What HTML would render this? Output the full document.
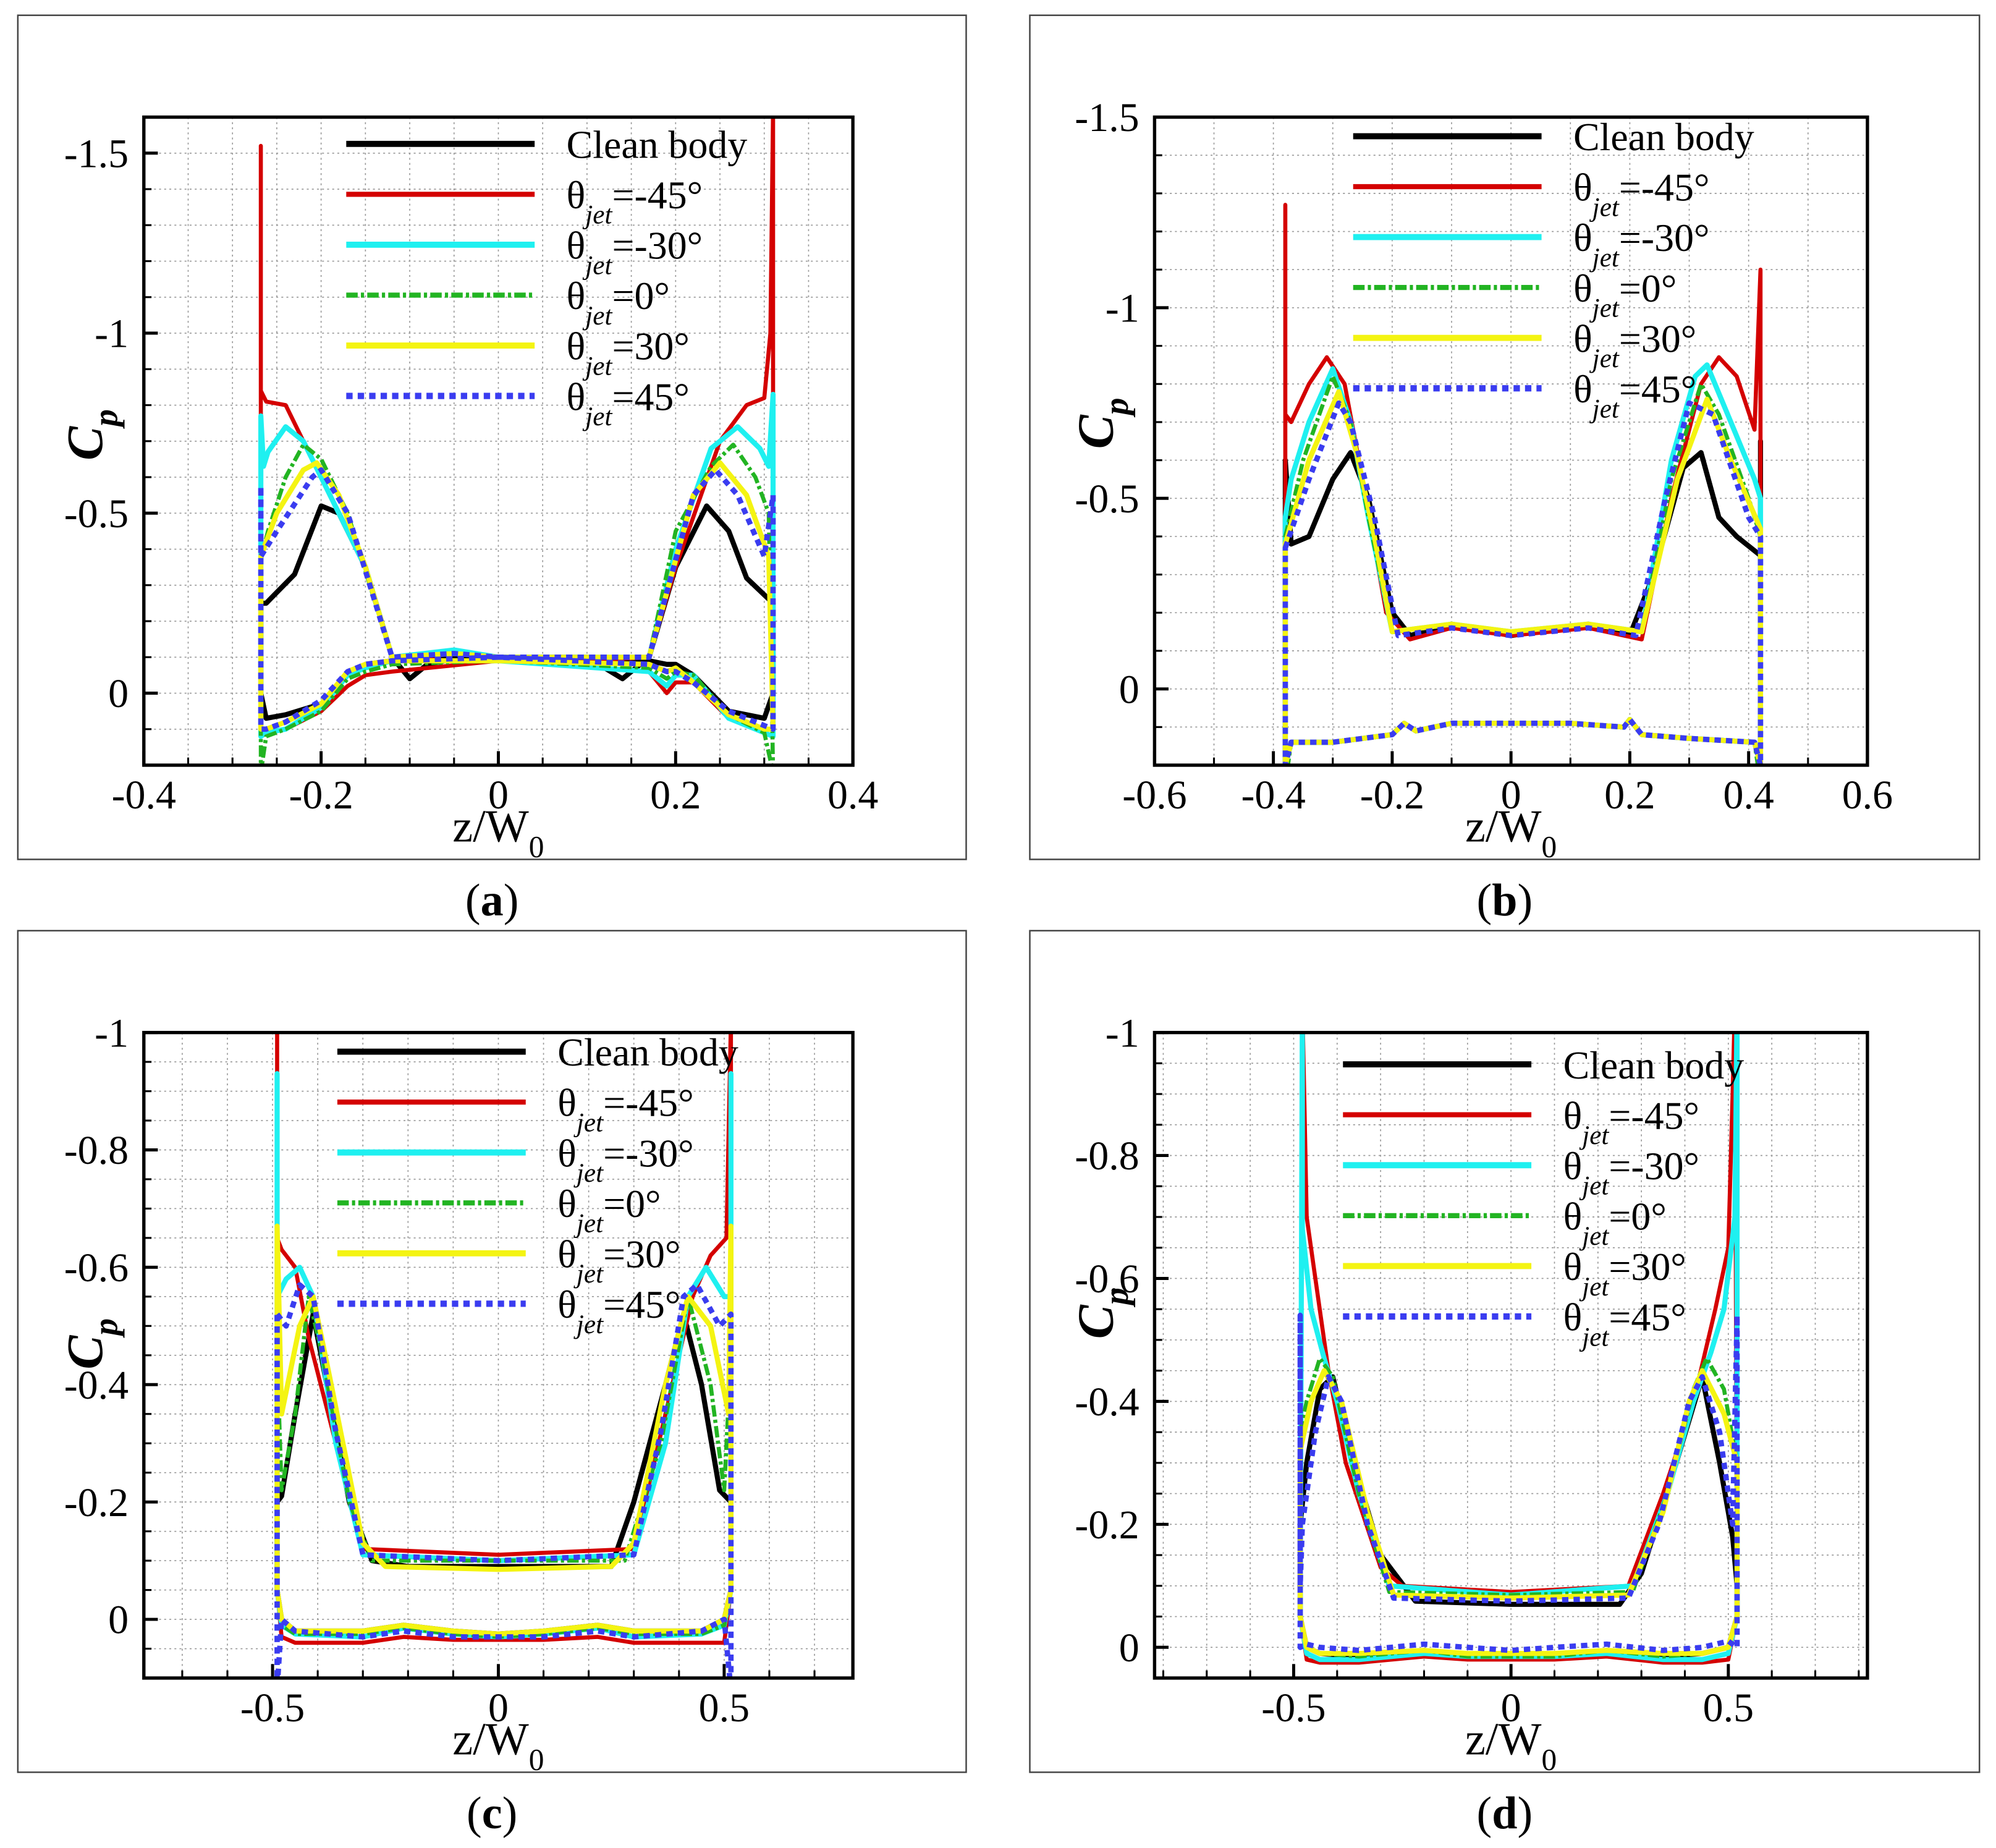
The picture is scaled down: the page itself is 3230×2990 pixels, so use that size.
<!DOCTYPE html>
<html><head><meta charset="utf-8">
<style>
html,body{margin:0;padding:0;background:#fff;}
svg{display:block;}
text{font-family:"Liberation Serif",serif;fill:#000;}
</style></head>
<body>
<svg id="fig" width="3230" height="2990" viewBox="0 0 1568 1451.5" xmlns="http://www.w3.org/2000/svg"></svg>
<script>
// ---------- Panel (a) data ----------
const A_black_upZ=[-0.268,-0.262,-0.25,-0.23,-0.2,-0.18,-0.15,-0.12,-0.1,-0.08,-0.04,0,0.1,0.14,0.17,0.2,0.235,0.26,0.28,0.31];
const A_black_upCp=[-0.25,-0.25,-0.28,-0.33,-0.52,-0.5,-0.35,-0.1,-0.04,-0.08,-0.1,-0.1,-0.1,-0.04,-0.1,-0.35,-0.52,-0.45,-0.32,-0.25];
const A_red_upZ=[-0.268,-0.268,-0.262,-0.24,-0.22,-0.19,-0.15,-0.12,-0.05,0,0.1,0.17,0.2,0.25,0.28,0.3,0.307,0.31];
const A_red_upCp=[-1.52,-0.84,-0.81,-0.8,-0.7,-0.55,-0.35,-0.1,-0.09,-0.09,-0.09,-0.1,-0.35,-0.7,-0.8,-0.82,-1.0,-1.62];
const A_cyan_upZ=[-0.268,-0.265,-0.26,-0.24,-0.22,-0.19,-0.15,-0.12,-0.05,0,0.1,0.17,0.2,0.24,0.27,0.295,0.305,0.31];
const A_cyan_upCp=[-0.77,-0.63,-0.67,-0.74,-0.7,-0.55,-0.35,-0.1,-0.12,-0.1,-0.1,-0.1,-0.4,-0.68,-0.74,-0.68,-0.63,-0.83];
const A_green_upZ=[-0.268,-0.26,-0.24,-0.22,-0.2,-0.17,-0.12,-0.05,0,0.1,0.17,0.2,0.24,0.265,0.29,0.305];
const A_green_upCp=[-0.37,-0.45,-0.6,-0.69,-0.65,-0.5,-0.1,-0.11,-0.1,-0.1,-0.1,-0.45,-0.63,-0.69,-0.6,-0.5];
const A_yellow_upZ=[-0.268,-0.25,-0.22,-0.205,-0.18,-0.15,-0.12,-0.05,0,0.1,0.17,0.22,0.25,0.28,0.305];
const A_yellow_upCp=[-0.38,-0.5,-0.62,-0.64,-0.55,-0.35,-0.1,-0.11,-0.1,-0.1,-0.1,-0.55,-0.64,-0.55,-0.38];
const A_blue_upZ=[-0.268,-0.268,-0.25,-0.21,-0.2,-0.17,-0.12,-0.05,0,0.1,0.17,0.22,0.245,0.27,0.3,0.31];
const A_blue_upCp=[-0.57,-0.38,-0.45,-0.6,-0.62,-0.5,-0.1,-0.11,-0.1,-0.1,-0.1,-0.55,-0.62,-0.55,-0.38,-0.55];
const A_loZ=[-0.268,-0.262,-0.24,-0.2,-0.17,-0.15,-0.12,0,0.17,0.19,0.2,0.22,0.26,0.3,0.31];
const A_black_loCp=[0.0,0.07,0.06,0.03,-0.05,-0.08,-0.09,-0.1,-0.09,-0.08,-0.08,-0.05,0.05,0.07,0.0];
const A_red_loCp=[0.12,0.11,0.1,0.05,-0.02,-0.05,-0.06,-0.09,-0.06,0.0,-0.03,-0.03,0.07,0.11,0.12];
const A_cyan_loCp=[0.12,0.11,0.1,0.04,-0.05,-0.07,-0.09,-0.09,-0.06,-0.02,-0.05,-0.05,0.07,0.11,0.12];
const A_green_loCp=[0.22,0.12,0.1,0.05,-0.04,-0.06,-0.08,-0.09,-0.07,-0.04,-0.06,-0.05,0.06,0.11,0.22];
const A_yellow_loCp=[0.1,0.1,0.08,0.03,-0.06,-0.08,-0.09,-0.09,-0.08,-0.06,-0.07,-0.03,0.06,0.1,0.1];
const A_blue_loCp=[0.1,0.1,0.08,0.02,-0.06,-0.08,-0.09,-0.1,-0.08,-0.06,-0.06,-0.03,0.05,0.09,0.1];
// ---------- Panel (b) data ----------
const B_black_upZ=[-0.38,-0.37,-0.34,-0.3,-0.27,-0.24,-0.2,-0.17,-0.1,0,0.13,0.2,0.24,0.29,0.32,0.35,0.38,0.42,0.42];
const B_black_upCp=[-0.6,-0.38,-0.4,-0.55,-0.62,-0.5,-0.2,-0.14,-0.17,-0.14,-0.17,-0.14,-0.3,-0.58,-0.62,-0.45,-0.4,-0.35,-0.65];
const B_red_upZ=[-0.38,-0.38,-0.37,-0.34,-0.31,-0.28,-0.25,-0.21,-0.17,-0.1,0,0.13,0.22,0.27,0.32,0.35,0.38,0.41,0.42];
const B_red_upCp=[-1.27,-0.72,-0.7,-0.8,-0.87,-0.8,-0.55,-0.2,-0.13,-0.16,-0.14,-0.16,-0.13,-0.5,-0.8,-0.87,-0.82,-0.68,-1.1];
const B_cyan_upZ=[-0.38,-0.37,-0.34,-0.3,-0.27,-0.24,-0.2,-0.1,0,0.13,0.22,0.27,0.31,0.33,0.37,0.41,0.42];
const B_cyan_upCp=[-0.45,-0.55,-0.7,-0.84,-0.7,-0.45,-0.15,-0.17,-0.15,-0.17,-0.15,-0.6,-0.82,-0.85,-0.7,-0.55,-0.5];
const B_green_upZ=[-0.38,-0.35,-0.3,-0.27,-0.24,-0.2,-0.1,0,0.13,0.22,0.27,0.32,0.35,0.4,0.42];
const B_green_upCp=[-0.4,-0.6,-0.82,-0.7,-0.45,-0.15,-0.17,-0.15,-0.17,-0.15,-0.55,-0.8,-0.72,-0.5,-0.4];
const B_yellow_upZ=[-0.38,-0.34,-0.29,-0.26,-0.23,-0.2,-0.1,0,0.13,0.22,0.28,0.33,0.37,0.42];
const B_yellow_upCp=[-0.38,-0.6,-0.78,-0.62,-0.4,-0.15,-0.17,-0.15,-0.17,-0.15,-0.55,-0.76,-0.6,-0.42];
const B_blue_upZ=[-0.38,-0.34,-0.29,-0.27,-0.23,-0.19,-0.1,0,0.13,0.21,0.26,0.3,0.34,0.4,0.42];
const B_blue_upCp=[-0.37,-0.55,-0.75,-0.7,-0.45,-0.14,-0.16,-0.14,-0.16,-0.14,-0.5,-0.75,-0.72,-0.45,-0.4];
const B_loZ=[-0.38,-0.37,-0.3,-0.2,-0.18,-0.16,-0.1,0,0.1,0.19,0.2,0.22,0.3,0.41,0.42];
const B_black_loCp=[0.2,0.14,0.14,0.12,0.09,0.11,0.09,0.09,0.09,0.1,0.08,0.12,0.13,0.14,0.2];
const B_red_loCp=[0.2,0.14,0.14,0.12,0.09,0.11,0.09,0.09,0.09,0.1,0.08,0.12,0.13,0.14,0.2];
const B_cyan_loCp=[0.2,0.14,0.14,0.12,0.09,0.11,0.09,0.09,0.09,0.1,0.08,0.12,0.13,0.14,0.2];
const B_green_loCp=[0.25,0.14,0.14,0.12,0.09,0.11,0.09,0.09,0.09,0.1,0.08,0.12,0.13,0.14,0.25];
const B_yellow_loCp=[0.2,0.14,0.14,0.12,0.09,0.11,0.09,0.09,0.09,0.1,0.08,0.12,0.13,0.14,0.2];
const B_blue_loCp=[0.2,0.14,0.14,0.12,0.09,0.11,0.09,0.09,0.09,0.1,0.08,0.12,0.13,0.14,0.2];
// ---------- Panel (c) data ----------
const C_black_upZ=[-0.49,-0.48,-0.45,-0.41,-0.38,-0.33,-0.28,-0.2,0,0.25,0.3,0.37,0.41,0.45,0.49,0.515];
const C_black_upCp=[-0.2,-0.21,-0.35,-0.52,-0.4,-0.2,-0.1,-0.09,-0.09,-0.09,-0.2,-0.4,-0.52,-0.4,-0.22,-0.2];
const C_red_upZ=[-0.49,-0.49,-0.48,-0.45,-0.42,-0.36,-0.3,0,0.3,0.37,0.43,0.47,0.505,0.515];
const C_red_upCp=[-1.02,-0.65,-0.63,-0.6,-0.48,-0.3,-0.12,-0.11,-0.12,-0.35,-0.55,-0.62,-0.65,-1.02];
const C_cyan_upZ=[-0.49,-0.49,-0.47,-0.44,-0.41,-0.36,-0.3,0,0.3,0.37,0.42,0.46,0.5,0.515,0.515];
const C_cyan_upCp=[-0.93,-0.55,-0.58,-0.6,-0.55,-0.3,-0.11,-0.1,-0.11,-0.3,-0.55,-0.6,-0.55,-0.55,-0.93];
const C_green_upZ=[-0.49,-0.48,-0.45,-0.42,-0.39,-0.33,-0.28,0,0.28,0.36,0.42,0.47,0.5,0.515];
const C_green_upCp=[-0.45,-0.22,-0.35,-0.55,-0.45,-0.2,-0.1,-0.1,-0.1,-0.3,-0.55,-0.4,-0.22,-0.45];
const C_yellow_upZ=[-0.49,-0.48,-0.44,-0.41,-0.37,-0.3,-0.25,0,0.25,0.3,0.37,0.42,0.47,0.51,0.515];
const C_yellow_upCp=[-0.67,-0.35,-0.5,-0.55,-0.4,-0.13,-0.09,-0.085,-0.09,-0.13,-0.4,-0.55,-0.5,-0.35,-0.67];
const C_blue_upZ=[-0.49,-0.47,-0.44,-0.41,-0.36,-0.3,0,0.3,0.36,0.41,0.44,0.49,0.515];
const C_blue_upCp=[-0.52,-0.5,-0.57,-0.55,-0.32,-0.11,-0.1,-0.11,-0.32,-0.55,-0.57,-0.5,-0.52];
const C_loZ=[-0.49,-0.48,-0.45,-0.3,-0.21,-0.1,0,0.1,0.22,0.3,0.45,0.5,0.515];
const C_black_loCp=[-0.05,0.0,0.02,0.02,0.01,0.02,0.025,0.02,0.01,0.02,0.02,0.0,-0.05];
const C_red_loCp=[-0.05,0.03,0.04,0.04,0.03,0.035,0.035,0.035,0.03,0.04,0.04,0.04,-0.05];
const C_cyan_loCp=[-0.05,0.01,0.025,0.03,0.015,0.025,0.03,0.025,0.015,0.03,0.025,0.01,-0.05];
const C_green_loCp=[-0.05,0.01,0.025,0.025,0.015,0.025,0.03,0.025,0.015,0.025,0.025,0.01,-0.05];
const C_yellow_loCp=[-0.05,0.0,0.02,0.02,0.01,0.02,0.025,0.02,0.01,0.02,0.02,0.0,-0.05];
const C_blue_loCp=[0.12,0.0,0.02,0.03,0.02,0.03,0.03,0.03,0.02,0.03,0.02,0.0,0.12];
// ---------- Panel (d) data ----------
const D_black_upZ=[-0.485,-0.47,-0.44,-0.41,-0.37,-0.3,-0.22,0,0.25,0.3,0.38,0.44,0.48,0.51,0.52];
const D_black_upCp=[-0.2,-0.3,-0.42,-0.44,-0.32,-0.15,-0.075,-0.07,-0.07,-0.12,-0.3,-0.44,-0.3,-0.18,-0.1];
const D_red_upZ=[-0.48,-0.47,-0.45,-0.42,-0.38,-0.3,-0.25,0,0.27,0.35,0.42,0.47,0.5,0.51,0.515];
const D_red_upCp=[-1.05,-0.7,-0.6,-0.45,-0.3,-0.13,-0.1,-0.09,-0.1,-0.25,-0.4,-0.55,-0.65,-0.9,-1.05];
const D_cyan_upZ=[-0.48,-0.48,-0.46,-0.43,-0.4,-0.35,-0.28,0,0.28,0.36,0.42,0.46,0.49,0.515,0.52];
const D_cyan_upCp=[-1.05,-0.68,-0.55,-0.47,-0.4,-0.25,-0.1,-0.085,-0.1,-0.25,-0.4,-0.48,-0.55,-0.7,-1.05];
const D_green_upZ=[-0.485,-0.47,-0.44,-0.41,-0.35,-0.28,0,0.28,0.36,0.42,0.45,0.49,0.52];
const D_green_upCp=[-0.35,-0.4,-0.47,-0.44,-0.25,-0.09,-0.085,-0.09,-0.25,-0.42,-0.47,-0.42,-0.3];
const D_yellow_upZ=[-0.485,-0.46,-0.43,-0.39,-0.33,-0.27,0,0.27,0.35,0.41,0.44,0.49,0.52];
const D_yellow_upCp=[-0.32,-0.4,-0.45,-0.4,-0.22,-0.085,-0.08,-0.085,-0.22,-0.4,-0.45,-0.38,-0.3];
const D_blue_upZ=[-0.485,-0.485,-0.48,-0.45,-0.42,-0.39,-0.33,-0.27,0,0.27,0.34,0.41,0.44,0.48,0.51,0.52];
const D_blue_upCp=[-0.54,-0.1,-0.2,-0.35,-0.44,-0.4,-0.2,-0.08,-0.075,-0.08,-0.2,-0.4,-0.44,-0.35,-0.2,-0.54];
const D_loZ=[-0.485,-0.47,-0.44,-0.35,-0.2,-0.1,0,0.1,0.22,0.35,0.44,0.5,0.52];
const D_black_loCp=[-0.05,0.0,0.01,0.015,0.005,0.015,0.015,0.015,0.005,0.015,0.01,0.0,-0.05];
const D_red_loCp=[-0.05,0.02,0.025,0.025,0.015,0.02,0.02,0.02,0.015,0.025,0.025,0.02,-0.05];
const D_cyan_loCp=[-0.05,0.01,0.02,0.02,0.01,0.015,0.015,0.015,0.01,0.02,0.02,0.01,-0.05];
const D_green_loCp=[-0.05,0.0,0.01,0.015,0.005,0.015,0.015,0.015,0.005,0.015,0.01,0.0,-0.05];
const D_yellow_loCp=[-0.05,0.0,0.01,0.01,0.005,0.01,0.01,0.01,0.005,0.01,0.01,0.0,-0.05];
const D_blue_loCp=[0.0,-0.005,0.0,0.005,-0.005,0.0,0.005,0.0,-0.005,0.005,0.0,-0.01,0.0];
// ---------- tick labels ----------
const A_xTicks=[-0.4,-0.2,0,0.2,0.4];
const A_yTicks=[-1.5,-1,-0.5,0];
const B_xTicks=[-0.6,-0.4,-0.2,0,0.2,0.4,0.6];
const B_yTicks=[-1.5,-1,-0.5,0];
const C_xTicks=[-0.5,0,0.5];
const C_yTicks=[-1,-0.8,-0.6,-0.4,-0.2,0];
const D_xTicks=[-0.5,0,0.5];
const D_yTicks=[-1,-0.8,-0.6,-0.4,-0.2,0];
const seriesNames=["clean-body","theta-minus45","theta-minus30","theta-0","theta-30","theta-45"];
const legendLabels=["Clean body","=-45°","=-30°","=0°","=30°","=45°"];

const NS="http://www.w3.org/2000/svg";
const svg=document.getElementById('fig');
function mk(tag,attrs,parent){const e=document.createElementNS(NS,tag);for(const k in attrs)e.setAttribute(k,attrs[k]);(parent||svg).appendChild(e);return e;}
const styles=[
 {stroke:"#000000",w:4,dash:null},
 {stroke:"#d40000",w:3.2,dash:null},
 {stroke:"#1ff0f0",w:4,dash:null},
 {stroke:"#22b422",w:3.2,dash:"9,2.5,2.5,2.5"},
 {stroke:"#f4f412",w:4,dash:null},
 {stroke:"#3a3cf0",w:4.2,dash:"5,4"}
];
const panels=[
 {id:"a",box:[14,12,759,675],L:113,R:670,T:92,B:601,x0:-0.4,x1:0.4,y0:-1.6,y1:0.2,gx:0.05,gy:0.1,mx:0.05,my:0.1,xt:A_xTicks,yt:A_yTicks,legX:272,legY:113,cpOff:-5,
  data:[[A_black_upZ,A_black_upCp,A_black_loCp],[A_red_upZ,A_red_upCp,A_red_loCp],[A_cyan_upZ,A_cyan_upCp,A_cyan_loCp],[A_green_upZ,A_green_upCp,A_green_loCp],[A_yellow_upZ,A_yellow_upCp,A_yellow_loCp],[A_blue_upZ,A_blue_upCp,A_blue_loCp]],loZ:A_loZ},
 {id:"b",box:[809,12,1555,675],L:907,R:1467,T:92,B:601,x0:-0.6,x1:0.6,y0:-1.5,y1:0.2,gx:0.1,gy:0.1,mx:0.1,my:0.1,xt:B_xTicks,yt:B_yTicks,legX:1063,legY:107,cpOff:-14,
  data:[[B_black_upZ,B_black_upCp,B_black_loCp],[B_red_upZ,B_red_upCp,B_red_loCp],[B_cyan_upZ,B_cyan_upCp,B_cyan_loCp],[B_green_upZ,B_green_upCp,B_green_loCp],[B_yellow_upZ,B_yellow_upCp,B_yellow_loCp],[B_blue_upZ,B_blue_upCp,B_blue_loCp]],loZ:B_loZ},
 {id:"c",box:[14,731,759,1392],L:113,R:670,T:811,B:1318,x0:-0.785,x1:0.785,y0:-1,y1:0.1,gx:0.1,gy:0.05,mx:0.1,my:0.05,xt:C_xTicks,yt:C_yTicks,legX:265,legY:826,cpOff:-9,
  data:[[C_black_upZ,C_black_upCp,C_black_loCp],[C_red_upZ,C_red_upCp,C_red_loCp],[C_cyan_upZ,C_cyan_upCp,C_cyan_loCp],[C_green_upZ,C_green_upCp,C_green_loCp],[C_yellow_upZ,C_yellow_upCp,C_yellow_loCp],[C_blue_upZ,C_blue_upCp,C_blue_loCp]],loZ:C_loZ},
 {id:"d",box:[809,731,1555,1392],L:907,R:1467,T:811,B:1318,x0:-0.82,x1:0.82,y0:-1,y1:0.05,gx:0.1,gy:0.05,mx:0.1,my:0.05,xt:D_xTicks,yt:D_yTicks,legX:1055,legY:836,cpOff:-33,
  data:[[D_black_upZ,D_black_upCp,D_black_loCp],[D_red_upZ,D_red_upCp,D_red_loCp],[D_cyan_upZ,D_cyan_upCp,D_cyan_loCp],[D_green_upZ,D_green_upCp,D_green_loCp],[D_yellow_upZ,D_yellow_upCp,D_yellow_loCp],[D_blue_upZ,D_blue_upCp,D_blue_loCp]],loZ:D_loZ}
];
const defs=mk('defs',{});
panels.forEach(p=>{
 const xs=v=>p.L+(v-p.x0)/(p.x1-p.x0)*(p.R-p.L);
 const ys=v=>p.T+(v-p.y0)/(p.y1-p.y0)*(p.B-p.T);
 const g=mk('g',{});
 
 
 const frame=mk('rect',{x:p.box[0],y:p.box[1],width:p.box[2]-p.box[0],height:p.box[3]-p.box[1],fill:'none',stroke:'#444','stroke-width':1.2},g);
 
 
 const cp=mk('clipPath',{id:'clip'+p.id},defs);
 mk('rect',{x:p.L,y:p.T,width:p.R-p.L,height:p.B-p.T},cp);
 const grid=mk('g',{stroke:'#999','stroke-width':0.8,'stroke-dasharray':'1.5,2.5'},g);
 
 
 for(let v=Math.ceil(p.x0/p.gx-1e-6)*p.gx;v<=p.x1+1e-9;v+=p.gx){const X=xs(v);if(X>p.L+2&&X<p.R-2)mk('line',{x1:X,y1:p.T,x2:X,y2:p.B},grid);}
 for(let v=Math.ceil(p.y0/p.gy-1e-6)*p.gy;v<=p.y1+1e-9;v+=p.gy){const Y=ys(v);if(Y>p.T+2&&Y<p.B-2)mk('line',{x1:p.L,y1:Y,x2:p.R,y2:Y},grid);}
 const tk=mk('g',{stroke:'#000','stroke-width':1.5},g);
 for(let v=Math.ceil(p.x0/p.mx-1e-6)*p.mx;v<=p.x1+1e-9;v+=p.mx){const X=xs(v);mk('line',{x1:X,y1:p.B,x2:X,y2:p.B-6},tk);}
 for(let v=Math.ceil(p.y0/p.my-1e-6)*p.my;v<=p.y1+1e-9;v+=p.my){const Y=ys(v);mk('line',{x1:p.L,y1:Y,x2:p.L+6,y2:Y},tk);}
 const sg=mk('g',{'clip-path':'url(#clip'+p.id+')',fill:'none','stroke-linejoin':'round'},g);
 p.data.forEach((s,i)=>{
  const pts=[];
  s[0].forEach((z,k)=>pts.push(xs(z).toFixed(1)+','+ys(s[1][k]).toFixed(1)));
  for(let k=p.loZ.length-1;k>=0;k--)pts.push(xs(p.loZ[k]).toFixed(1)+','+ys(s[2][k]).toFixed(1));
  const st=styles[i];
  const path=mk('path',{d:'M'+pts.join(' L')+' Z',stroke:st.stroke,'stroke-width':st.w},sg);
  if(st.dash)path.setAttribute('stroke-dasharray',st.dash);
  
  
 });
 const ax=mk('rect',{x:p.L,y:p.T,width:p.R-p.L,height:p.B-p.T,fill:'none',stroke:'#000','stroke-width':2.6},g);
 
 
 p.xt.forEach(v=>{const X=xs(v);mk('line',{x1:X,y1:p.B,x2:X,y2:p.B-11,stroke:'#000','stroke-width':2.4},g);
  const t=mk('text',{x:X,y:p.B+34,'font-size':32,'text-anchor':'middle'},g);t.textContent=String(v);
  
  });
 p.yt.forEach(v=>{const Y=ys(v);mk('line',{x1:p.L,y1:Y,x2:p.L+11,y2:Y,stroke:'#000','stroke-width':2.4},g);
  const t=mk('text',{x:p.L-12,y:Y+11,'font-size':32,'text-anchor':'end'},g);t.textContent=String(v);
  
  });
 const cx=(p.L+p.R)/2;
 const xt=mk('text',{x:cx-36,y:p.B+60,'font-size':36},g);
 xt.innerHTML='z/W<tspan font-size="24" dy="12">0</tspan>';
 
 
 const yc=(p.T+p.B)/2+p.cpOff;
 const yt=mk('text',{transform:'translate('+(p.L-33)+','+yc+') rotate(-90)','font-size':40,'font-style':'italic','font-weight':'bold','text-anchor':'middle'},g);
 yt.innerHTML='C<tspan font-size="27" dy="12">p</tspan>';
 
 
 styles.forEach((st,i)=>{
  const Y=p.legY+i*39.6;
  const lg=mk('g',{},g);
  
  
  const ln=mk('line',{x1:p.legX,y1:Y,x2:p.legX+148,y2:Y,stroke:st.stroke,'stroke-width':st.w+0.8},lg);
  if(st.dash)ln.setAttribute('stroke-dasharray',st.dash);
  const t=mk('text',{x:p.legX+173,y:Y+11,'font-size':31},lg);
  if(i===0)t.textContent=legendLabels[0];
  else t.innerHTML='θ<tspan font-size="21" font-style="italic" dy="12">jet</tspan><tspan dy="-12">'+legendLabels[i]+'</tspan>';
 });
 const lab=mk('text',{x:(p.box[0]+p.box[2])/2,y:p.box[3]+44,'font-size':36,'text-anchor':'middle'},g);
 lab.innerHTML='(<tspan font-weight="bold">'+p.id+'</tspan>)';
 
 
});
</script>
</body></html>
